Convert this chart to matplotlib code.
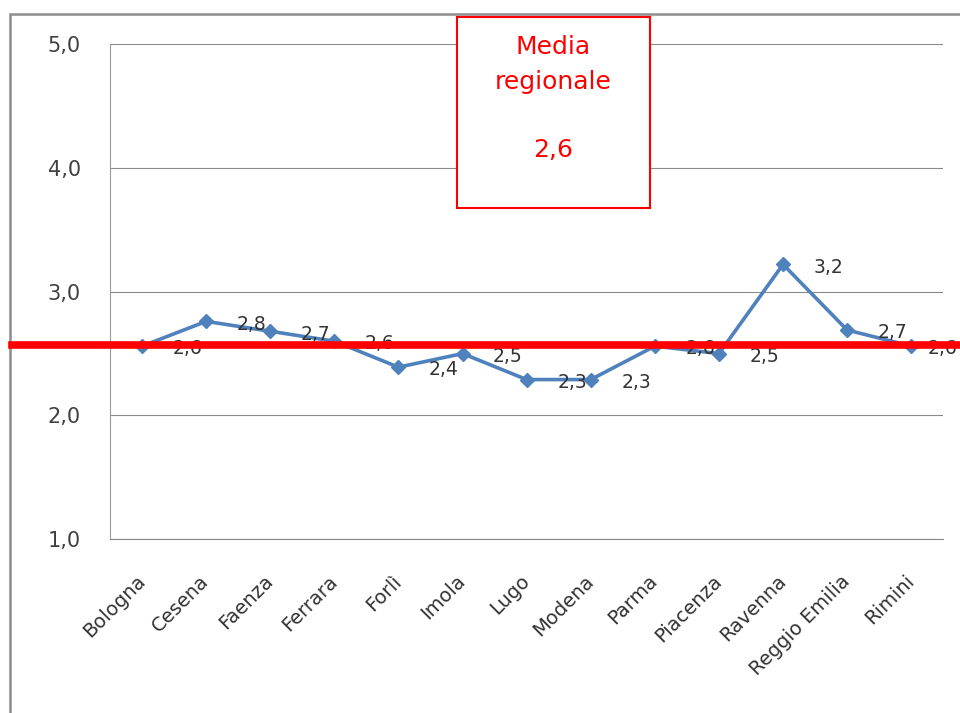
import matplotlib
matplotlib.use("Agg")
import matplotlib.pyplot as plt
import matplotlib.transforms as mtransforms
from matplotlib.lines import Line2D
from matplotlib.patches import Rectangle

comuni = ["Bologna", "Cesena", "Faenza", "Ferrara", "Forlì", "Imola", "Lugo",
          "Modena", "Parma", "Piacenza", "Ravenna", "Reggio Emilia", "Rimini"]
valori = [2.56, 2.76, 2.68, 2.60, 2.39, 2.50, 2.29, 2.29, 2.56, 2.50, 3.22, 2.69, 2.56]
media_regionale = 2.57
y_ticks = [1, 2, 3, 4, 5]


def virgola(v):
    return f"{v:.1f}".replace(".", ",")


fig = plt.figure(figsize=(9.6, 7.13), dpi=100)
ax = fig.add_axes([0.1146, 0.2436, 0.868, 0.6947])

x = list(range(len(comuni)))
ax.plot(x, valori, color="#4F81BD", lw=2.6, marker="D", ms=7, zorder=3)

# value labels to the right of each point; the last one is pulled in at the edge
for xi, v in zip(x, valori):
    dx = 22 if xi < len(comuni) - 1 else 12
    ax.annotate(virgola(v), (xi, v), xytext=(dx, -2), textcoords="offset points",
                ha="left", va="center", fontsize=13.5, color="#333333",
                annotation_clip=False, zorder=4)

ax.set_xlim(-0.5, len(comuni) - 0.5)
ax.set_ylim(1, 5)
ax.set_yticks(y_ticks)
ax.set_yticklabels([virgola(t) for t in y_ticks], fontsize=15, color="#404040")
ax.set_xticks(x)
ax.set_xticklabels(comuni, fontsize=14, color="#333333")
plt.setp(ax.get_xticklabels(), rotation=45, ha="right", va="center",
         rotation_mode="anchor")
ax.tick_params(axis="x", length=0, pad=28)
ax.tick_params(axis="y", length=0, pad=21)

ax.grid(axis="y", color="#8a8a8a", lw=0.8)
ax.set_axisbelow(True)
for s in ["top", "right"]:
    ax.spines[s].set_visible(False)
ax.spines["bottom"].set_color("#8a8a8a")
ax.spines["bottom"].set_linewidth(0.8)
ax.spines["left"].set_color("#9a9a9a")
ax.spines["left"].set_linewidth(0.8)

# outer frame of the chart area
fig.patches.append(Rectangle((0.0104, -0.1), 1.2, 1.0804, transform=fig.transFigure,
                             fill=False, edgecolor="#8c8c8c", lw=1.8, zorder=0))

# regional average line across the whole chart
blend = mtransforms.blended_transform_factory(fig.transFigure, ax.transData)
fig.add_artist(Line2D([0.0125, 1.0], [media_regionale, media_regionale],
                      transform=blend, color="#FF0000", lw=5.5, zorder=10))

# box with the regional average
fig.patches.append(Rectangle((457 / 960, 1 - 208 / 713), 193 / 960, 191.5 / 713,
                             transform=fig.transFigure, facecolor="white",
                             edgecolor="#FF0000", lw=1.5, zorder=11))
for testo, ypix in [("Media", 46.7), ("regionale", 81.7), (virgola(media_regionale), 150)]:
    fig.text(553.5 / 960, 1 - ypix / 713, testo, ha="center", va="center",
             fontsize=18, color="#FF0000", zorder=12)

fig.savefig("out.png", dpi=100)
